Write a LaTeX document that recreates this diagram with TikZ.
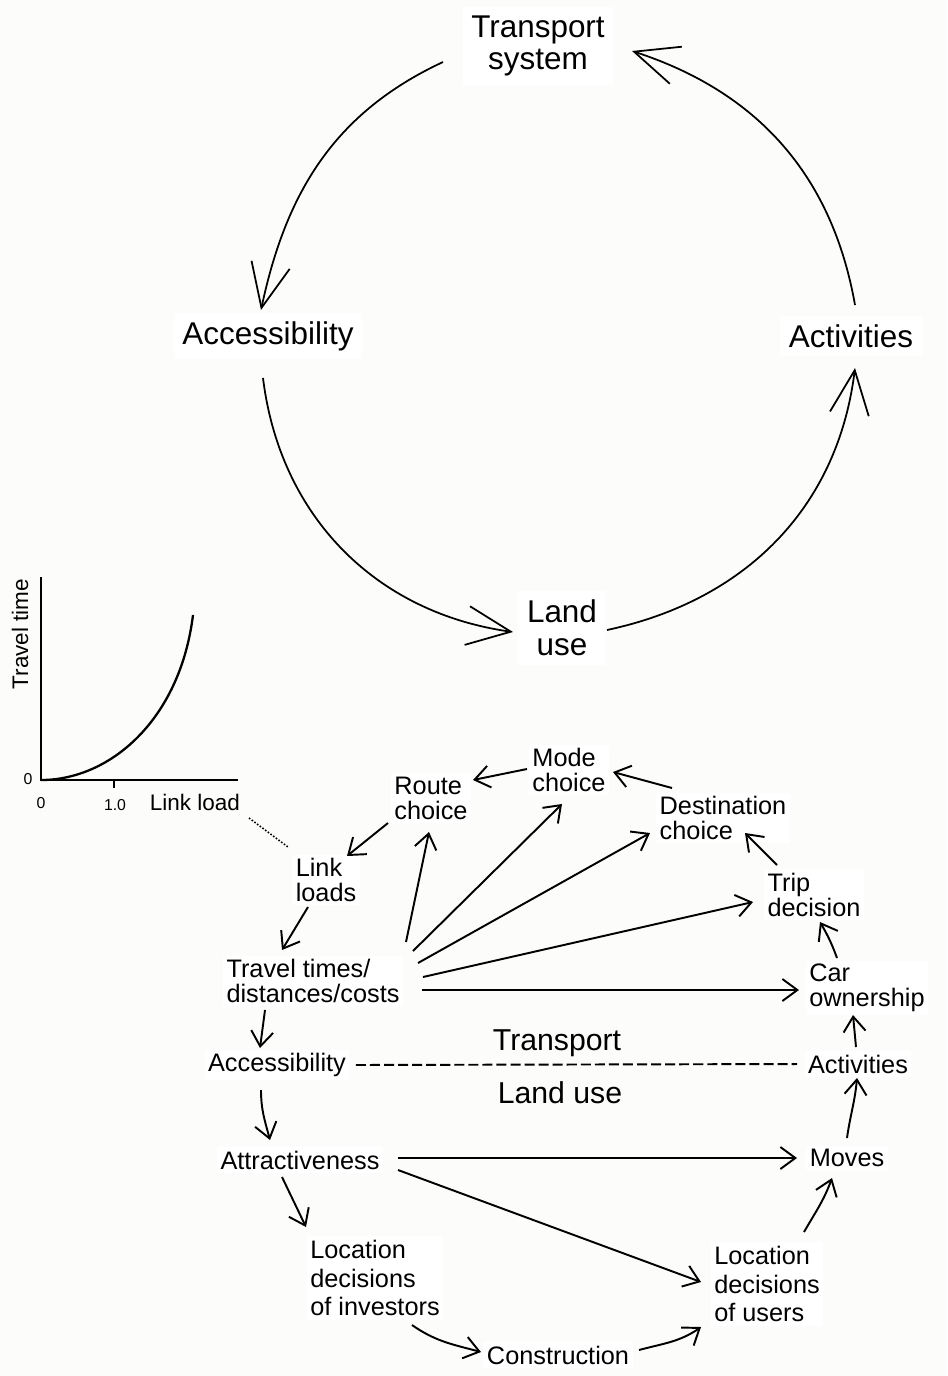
\documentclass[tikz,border=0pt]{standalone}
\usepackage{fontspec}
\setmainfont{Liberation Sans}
\usetikzlibrary{arrows.meta,calc}
\definecolor{paper}{RGB}{252,252,250}

\begin{document}
\begin{tikzpicture}[
        x=0.02cm, y=0.02cm,
        bigbox/.style={fill=white, inner sep=5pt, align=center, font=\fontsize{17.9}{18.7}\selectfont},
        smallbox/.style={fill=white, inner sep=2pt, align=left, font=\fontsize{14.4}{14.2}\selectfont},
        tallbox/.style={smallbox, font=\fontsize{14.4}{16.4}\selectfont},
        sidelabel/.style={font=\fontsize{17.2}{18}\selectfont},
        axislabel/.style={font=\fontsize{12.8}{13}\selectfont, inner sep=1pt},
        ticklabel/.style={font=\fontsize{9}{10}\selectfont, inner sep=1pt},
        bigarrow/.style={-{Straight Barb[length=0.88cm, width=0.78cm]}, line width=1pt},
        smallarrow/.style={-{Straight Barb[length=0.3cm, width=0.44cm]}, line width=1.1pt},
        dashline/.style={line width=1.1pt, dash pattern=on 5.7pt off 2.3pt},
        dotline/.style={line width=0.9pt, dash pattern=on 0.9pt off 1pt}
    ]

        \fill[paper] (0,0) rectangle (947,-1376);

        % Big cycle: transport system -> accessibility -> land use -> activities
        \node[bigbox] (tsys) at (538,-46) {Transport\\system};
        \node[bigbox] (acc_top) at (268,-336) {Accessibility};
        \node[bigbox] (act_top) at (851,-336) {Activities};
        \node[bigbox] (land_top) at (562,-628) {Land\\use};
        \draw[bigarrow] ($(tsys)+(-95,-16)$) to[out=205, in=78] ($(acc_top)+(-7,26)$);
        \draw[bigarrow] ($(acc_top)+(-5,-42)$) to[out=-83, in=172] ($(land_top)+(-49,-4)$);
        \draw[bigarrow] ($(land_top)+(45,-2)$) to[out=12, in=263] ($(act_top)+(4,-32)$);
        \draw[bigarrow] ($(act_top)+(4,31)$) to[out=100, in=342] ($(tsys)+(94,-5)$);

        % Inset: link load vs travel time
        \draw[line width=1.4pt] (41,-577) -- (41,-780) -- (238,-780);
        \draw[line width=1.4pt] (114,-780) -- (114,-788);
        \draw[line width=1.3pt] (41,-780) .. controls (110,-780) and (180,-720) .. (193,-615);
        \node[axislabel, rotate=90] (time_axis) at (20,-634) {Travel time};
        \node[ticklabel] (zero_y) at (28,-779) {0};
        \node[ticklabel] (zero_x) at (41,-803) {0};
        \node[ticklabel] (one_x) at (115,-805) {1.0};
        \node[axislabel] (load_axis) at (195,-802) {Link load};

        % Transport side
        \node[smallbox] (route) at (431,-798) {Route\\choice};
        \node[smallbox] (mode) at (569,-770) {Mode\\choice};
        \node[smallbox] (dest) at (723,-818) {Destination\\choice};
        \node[smallbox] (trip) at (814,-895) {Trip\\decision};
        \node[smallbox] (car) at (867,-988) {Car\\ownership};
        \node[smallbox] (links) at (326,-880) {Link\\loads};
        \node[smallbox] (tt) at (313,-981) {Travel times/\\distances/costs};
        \node[smallbox] (acc) at (277,-1065) {Accessibility};
        \node[smallbox] (act) at (858,-1064) {Activities};

        \draw[dotline] ($(load_axis)+(54,-16)$) -- ($(links)+(-38,33)$);
        \draw[smallarrow] ($(mode)+(-42,1)$) -- ($(route)+(42,18)$);
        \draw[smallarrow] ($(dest)+(-51,30)$) -- ($(mode)+(44,-2)$);
        \draw[smallarrow] ($(route)+(-43,-25)$) -- ($(links)+(21,24)$);
        \draw[smallarrow] ($(links)+(-18,-27)$) -- ($(tt)+(-31,31)$);
        \draw[smallarrow] ($(tt)+(93,39)$) -- ($(route)+(-2,-34)$);
        \draw[smallarrow] ($(tt)+(100,30)$) -- ($(mode)+(-7,-34)$);
        \draw[smallarrow] ($(tt)+(105,18)$) -- ($(dest)+(-73,-15)$);
        \draw[smallarrow] ($(tt)+(110,4)$) -- ($(trip)+(-61,-7)$);
        \draw[smallarrow] ($(tt)+(109,-9)$) -- ($(car)+(-68,-2)$);
        \draw[smallarrow] ($(trip)+(-37,30)$) -- ($(dest)+(22,-15)$);
        \draw[smallarrow] ($(car)+(-30,30)$) to[out=110, in=300] ($(trip)+(6,-27)$);
        \draw[smallarrow] ($(act)+(-2,17)$) -- ($(car)+(-14,-27)$);
        \draw[smallarrow] ($(tt)+(-48,-29)$) -- ($(acc)+(-17,17)$);

        % Divide between the two halves
        \node[sidelabel] (transport_lbl) at (557,-1043) {Transport};
        \node[sidelabel] (landuse_lbl) at (560,-1093) {Land use};
        \draw[dashline, shorten <=3.5pt, shorten >=4pt] (acc.east) -- (act.west);

        % Land use side
        \node[smallbox] (attr) at (300,-1160) {Attractiveness};
        \node[smallbox] (moves) at (847,-1158) {Moves};
        \node[tallbox] (invest) at (375,-1278) {Location\\decisions\\of investors};
        \node[tallbox] (users) at (767,-1284) {Location\\decisions\\of users};
        \node[smallbox] (constr) at (558,-1355) {Construction};

        \draw[smallarrow] ($(acc)+(-16,-25)$) to[out=-90, in=105] ($(attr)+(-30,20)$);
        \draw[smallarrow] ($(attr)+(98,2)$) -- ($(moves)+(-50,0)$);
        \draw[smallarrow] ($(attr)+(98,-10)$) -- ($(users)+(-66,2)$);
        \draw[smallarrow] ($(attr)+(-18,-17)$) -- ($(invest)+(-69,51)$);
        \draw[smallarrow] ($(invest)+(37,-47)$) to[out=-35, in=165] ($(constr)+(-77,3)$);
        \draw[smallarrow] ($(constr)+(81,5)$) to[out=15, in=215] ($(users)+(-66,-43)$);
        \draw[smallarrow] ($(users)+(37,52)$) to[out=60, in=250] ($(moves)+(-15,-20)$);
        \draw[smallarrow] ($(moves)+(0,20)$) to[out=82, in=265] ($(act)+(-1,-14)$);

\end{tikzpicture}
\end{document}
